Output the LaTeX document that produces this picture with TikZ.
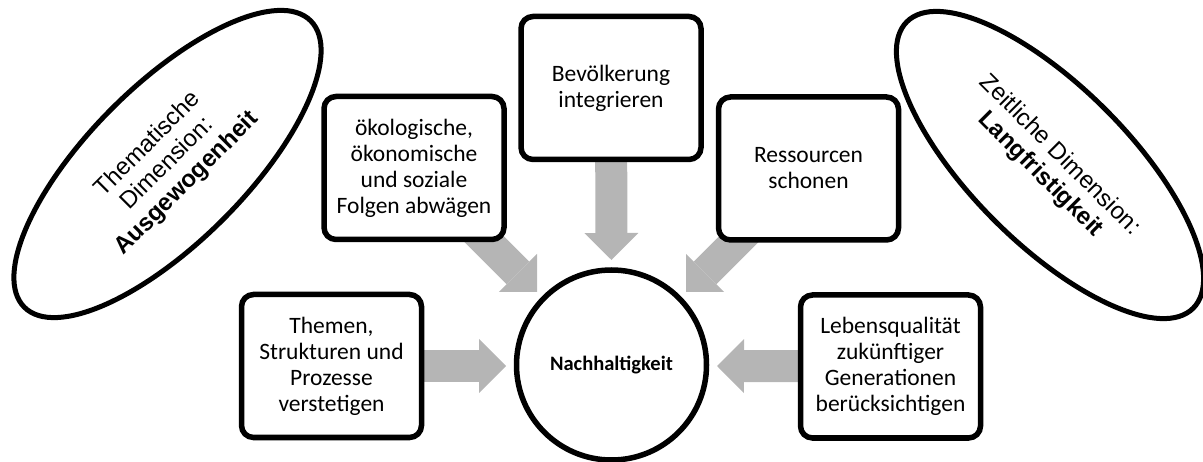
\documentclass[tikz,border=0pt]{standalone}
\usepackage{fontspec}
\setmainfont{Carlito}
\newfontfamily\arialf{Liberation Sans}
\usetikzlibrary{shapes.geometric,arrows.meta}
\pgfdeclarelayer{bg}
\pgfsetlayers{bg,main}
\definecolor{arrowgray}{RGB}{181,181,181}
\begin{document}
\begin{tikzpicture}[x=1pt,y=-1pt,
  box/.style={draw, line width=5.5pt, rounded corners=12pt, fill=white,
    minimum width=180pt, minimum height=143pt, align=center, inner sep=0pt,
    font=\fontsize{23.5}{26}\selectfont},
  dimell/.style={draw, ellipse, line width=5pt, fill=white,
    minimum width=405pt, minimum height=157pt, inner sep=0pt, align=center,
    font=\arialf\fontsize{24}{27.5}\selectfont},
  hub/.style={draw, circle, line width=5.5pt, fill=white, minimum size=190pt,
    inner sep=0pt, font=\bfseries\fontsize{20.5}{24}\selectfont},
  blockarrow/.style={draw=arrowgray, line width=32pt, line cap=butt,
    -{Triangle[width=54pt,length=27pt,line width=0pt,fill=arrowgray]}}
]
\useasboundingbox (0,0) rectangle (1203,462);

\node[dimell, rotate=45] (thema) at (167.5,164)
  {Thematische\\Dimension:\\\textbf{Ausgewogenheit}};
\node[dimell, rotate=-45] (zeit) at (1050,165)
  {Zeitliche Dimension:\\\textbf{Langfristigkeit}};

\node[box] (oeko) at (414,168)
  {ökologische,\\ökonomische\\und soziale\\Folgen abwägen};
\node[box] (bev) at (611,88) {Bevölkerung\\integrieren};
\node[box] (res) at (808.5,168.5) {Ressourcen\\schonen};
\node[box] (them) at (331.5,366)
  {Themen,\\Strukturen und\\Prozesse\\verstetigen};
\node[box] (leb) at (890.5,366.5)
  {Lebensqualität\\zukünftiger\\Generationen\\berücksichtigen};

\node[hub] (nach) at (611.5,365) {Nachhaltigkeit};

\coordinate (tipU) at (611.5,260);
\coordinate (tipL) at (506,366);
\coordinate (tipR) at (717,366);
\coordinate (tipUL) at (537,292);
\coordinate (tipUR) at (686,292);
\coordinate (startUL) at (462,217);
\coordinate (startUR) at (761,217);

\begin{pgfonlayer}{bg}
  \draw[blockarrow] (bev.center) -- (tipU);
  \draw[blockarrow] (them.center) -- (tipL);
  \draw[blockarrow] (leb.center) -- (tipR);
  \draw[blockarrow] (startUL) -- (tipUL);
  \draw[blockarrow] (startUR) -- (tipUR);
\end{pgfonlayer}
\end{tikzpicture}
\end{document}
